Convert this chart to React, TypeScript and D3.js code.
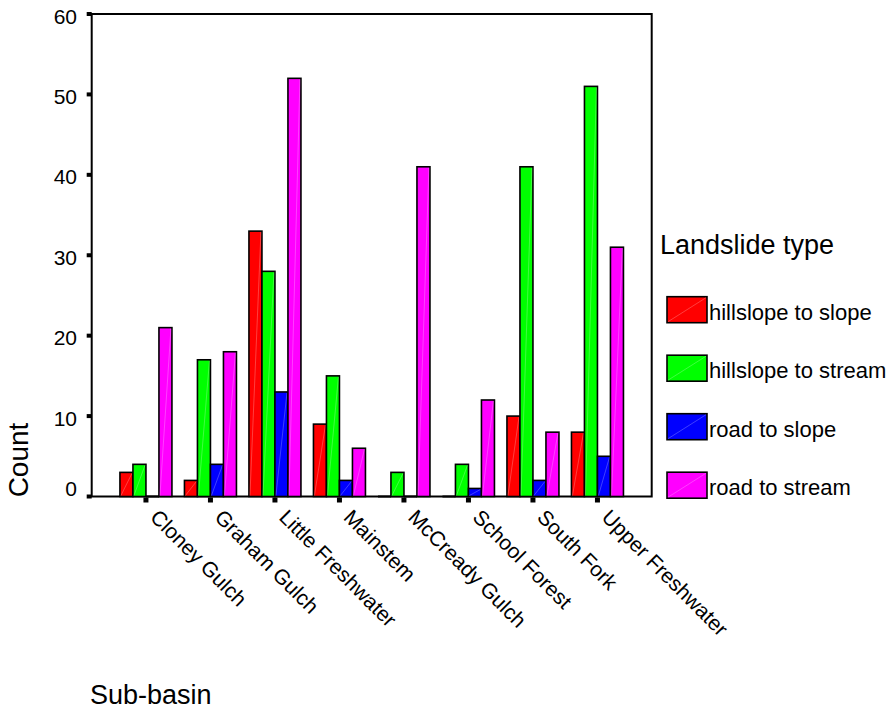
import React from "react";
import * as d3 from "d3";

const categories = [
  "Cloney Gulch",
  "Graham Gulch",
  "Little Freshwater",
  "Mainstem",
  "McCready Gulch",
  "School Forest",
  "South Fork",
  "Upper Freshwater",
];
const seriesNames = ["hillslope to slope", "hillslope to stream", "road to slope", "road to stream"];
const hillslopeToSlope = [3, 2, 33, 9, 0, 0, 10, 8];
const hillslopeToStream = [4, 17, 28, 15, 3, 4, 41, 51];
const roadToSlope = [0, 4, 13, 2, 0, 1, 2, 5];
const roadToStream = [21, 18, 52, 6, 41, 12, 8, 31];
const seriesColors = ["#ff0000", "#00ff00", "#0000ff", "#ff00ff"];
const yTicks = [0, 10, 20, 30, 40, 50, 60];

const W = 887;
const H = 712;
const FONT = "'Liberation Sans', Arial, Helvetica, sans-serif";

export default function App() {
  const left = 91.7;
  const right = 651.7;
  const top = 14;
  const bottom = 496.5;

  const seriesValues = [hillslopeToSlope, hillslopeToStream, roadToSlope, roadToStream];

  const x = d3.scalePoint<string>().domain(categories).range([left, right]).padding(0.841);
  const inner = d3.scaleBand<string>().domain(seriesNames).range([-26, 26]).padding(0);
  const y = d3.scaleLinear().domain([0, 60]).range([bottom, top]);

  const bars: JSX.Element[] = [];
  categories.forEach((c, ci) => {
    seriesNames.forEach((s, si) => {
      const v = seriesValues[si][ci];
      const bx = (x(c) as number) + (inner(s) as number);
      const bw = inner.bandwidth();
      const by = y(v);
      const bh = Math.max(bottom - by, 0);
      if (bh < 0.5) {
        bars.push(
          <line key={`z-${ci}-${si}`} x1={bx} x2={bx + bw} y1={bottom} y2={bottom} stroke="#000" strokeWidth={2} />
        );
      } else {
        bars.push(
          <g key={`b-${ci}-${si}`}>
            <rect x={bx} y={by} width={bw} height={bh} fill={seriesColors[si]} stroke="#000" strokeWidth={1.6} />
            <line x1={bx + 1} y1={bottom - 1} x2={bx + bw - 1} y2={by + 1} stroke="#fff" strokeOpacity={0.35} strokeWidth={0.7} />
          </g>
        );
      }
    });
  });

  return (
    <svg width={W} height={H} style={{ display: "block", position: "absolute", left: 0, top: 0, background: "#fff" }}>
      <rect x={0} y={0} width={W} height={H} fill="#fff" />
      {/* frame */}
      <rect x={left} y={top} width={right - left} height={bottom - top} fill="none" stroke="#000" strokeWidth={2} />
      {bars}
      {/* y ticks */}
      {yTicks.map((t) => (
        <g key={`yt-${t}`}>
          <rect x={left - 5} y={y(t) - 2} width={5} height={4} fill="#000" />
          <text
            x={77}
            y={y(t) + (t === 0 ? -8 : 2)}
            textAnchor="end"
            dominantBaseline="central"
            fontFamily={FONT}
            fontSize={21}
            fill="#000"
          >
            {t}
          </text>
        </g>
      ))}
      {/* x ticks and labels */}
      {categories.map((c) => {
        const cx = x(c) as number;
        return (
          <g key={`xt-${c}`}>
            <rect x={cx - 2.5} y={bottom + 1} width={5} height={5} fill="#000" />
            <text
              transform={`translate(${cx + 3},${bottom + 22}) rotate(45)`}
              textAnchor="start"
              fontFamily={FONT}
              fontSize={21}
              fill="#000"
            >
              {c}
            </text>
          </g>
        );
      })}
      {/* axis titles */}
      <text transform={`translate(28,460) rotate(-90)`} textAnchor="middle" fontFamily={FONT} fontSize={28} fill="#000">
        Count
      </text>
      <text x={90} y={704} fontFamily={FONT} fontSize={27} fill="#000">
        Sub-basin
      </text>
      {/* legend */}
      <text x={660} y={254} fontFamily={FONT} fontSize={27} fill="#000">
        Landslide type
      </text>
      {seriesNames.map((s, i) => {
        const ly = 296.7 + i * 58.5;
        return (
          <g key={`lg-${s}`}>
            <rect x={667} y={ly} width={40} height={26} fill={seriesColors[i]} stroke="#000" strokeWidth={1.6} />
            <line x1={668} y1={ly + 25} x2={706} y2={ly + 1} stroke="#fff" strokeOpacity={0.35} strokeWidth={0.7} />
            <text x={709} y={ly + 23} fontFamily={FONT} fontSize={22} fill="#000">
              {s}
            </text>
          </g>
        );
      })}
    </svg>
  );
}
